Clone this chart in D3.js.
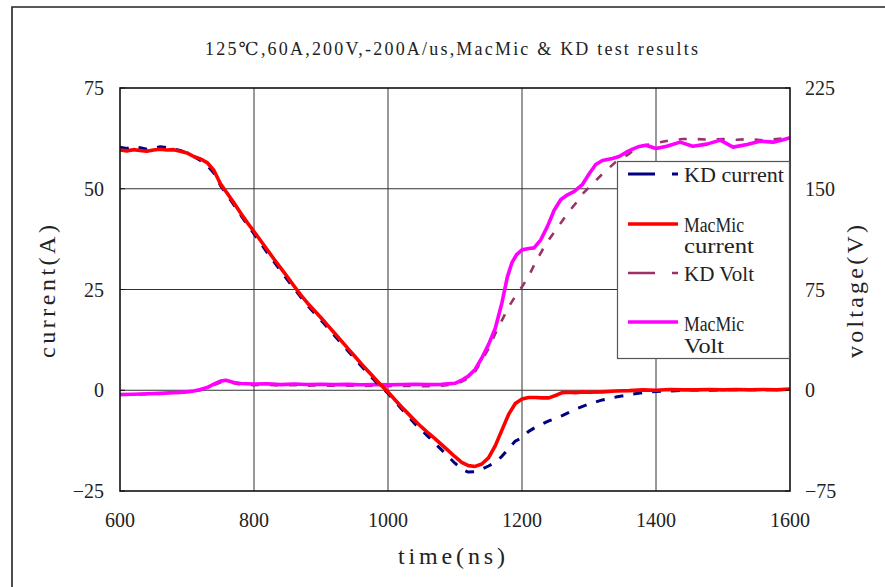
<!DOCTYPE html>
<html>
<head>
<meta charset="utf-8">
<script src="https://cdn.jsdelivr.net/npm/d3@7"></script>
<style>
  body { margin: 0; background: #fff; }
  text { font-family: "Liberation Serif", "DejaVu Serif", serif; fill: #222; }
</style>
</head>
<body>
<svg width="885" height="587"></svg>
<script>
// time axis ticks (ns) and value ticks
var timeTicks = [600, 800, 1000, 1200, 1400, 1600];
var currentTicks = [-25, 0, 25, 50, 75];
var voltTicks = [-75, 0, 75, 150, 225];

// MacMic current (A)
var macCurT = [600,610,620,630,640,650,660,670,680,690,700,710,720,730,740,750,760,770,780,790,800,810,820,830,840,850,860,870,880,890,900,910,920,930,940,950,960,970,980,990,1000,1010,1020,1030,1040,1050,1060,1070,1080,1090,1100,1110,1120,1130,1140,1150,1160,1170,1180,1190,1200,1210,1220,1230,1240,1250,1260,1270,1280,1290,1300,1320,1340,1360,1380,1400,1420,1440,1460,1480,1500,1520,1540,1560,1580,1600];
var macCurV = [59.6,59.4,59.7,59.5,59.3,59.6,59.8,59.6,59.7,59.3,58.9,58.0,57.4,56.5,54.6,51.2,48.9,46.5,44.0,41.6,39.4,37.1,34.8,32.5,30.3,28.1,25.8,23.6,21.6,19.8,18.0,16.1,14.2,12.3,10.4,8.5,6.6,4.8,3.0,1.2,-0.4,-2.3,-4.1,-5.8,-7.5,-9.1,-10.6,-12.0,-13.5,-15.0,-16.5,-17.9,-18.7,-18.9,-18.3,-16.8,-13.8,-9.9,-6.0,-3.3,-2.2,-1.8,-1.8,-1.9,-1.9,-1.3,-0.6,-0.5,-0.6,-0.4,-0.5,-0.4,-0.2,-0.1,0.1,0.0,0.2,0.1,0.1,0.2,0.1,0.2,0.1,0.2,0.1,0.3];

// KD current (A)
var kdCurT = [600,610,620,630,640,650,660,670,680,690,700,710,720,730,740,750,760,770,780,790,800,820,840,860,880,900,920,940,960,980,1000,1020,1040,1060,1080,1100,1110,1120,1130,1140,1150,1160,1170,1180,1190,1200,1210,1220,1240,1260,1280,1300,1320,1340,1360,1380,1400,1420,1440,1460,1480,1500,1520,1540,1560,1580,1600];
var kdCurV = [60.3,60.0,60.5,60.2,59.8,60.1,60.4,60.2,59.9,59.5,58.8,58.0,57.0,55.8,53.9,50.8,48.4,46.0,43.5,41.1,38.8,34.1,29.6,25.2,21.0,17.4,13.6,9.8,6.0,2.4,-0.8,-4.6,-8.3,-11.5,-14.8,-18.1,-19.6,-20.3,-20.2,-19.6,-18.8,-17.9,-16.4,-14.5,-12.6,-11.8,-10.2,-9.2,-7.6,-6.3,-4.7,-3.4,-2.4,-1.7,-1.1,-0.6,-0.3,-0.2,0.0,0.1,0.0,0.1,0.1,0.2,0.1,0.2,0.2];

// MacMic voltage (V)
var macVoltT = [600,620,640,660,680,700,710,720,730,740,750,758,770,780,800,820,840,860,880,900,920,940,960,980,1000,1020,1040,1060,1080,1100,1110,1120,1130,1140,1150,1160,1170,1178,1185,1192,1200,1210,1218,1228,1238,1248,1258,1268,1278,1290,1300,1310,1320,1335,1345,1355,1365,1375,1385,1400,1416,1436,1455,1476,1496,1515,1536,1555,1575,1590,1600];
var macVoltV = [-3.2,-3.0,-2.6,-2.3,-1.8,-1.2,-0.5,0.5,2.0,4.5,6.8,7.5,5.8,5.0,4.6,4.8,4.2,4.6,4.3,4.5,4.2,4.4,4.1,4.3,4.0,4.3,4.5,4.2,4.4,5.2,7.5,10.5,15.5,24,34,46,65,84,95,101,104.5,105.5,106,112,122,134,142,145.5,148,153,161,168,171,172.5,174,177,179.5,181.5,182.4,180,181.7,184.7,181.7,183.2,186.2,181,183,185.4,184.7,186.5,188];

// KD voltage (V)
var kdVoltT = [600,620,640,660,680,700,720,730,740,750,760,770,780,800,820,840,860,880,900,920,940,960,980,1000,1020,1040,1060,1080,1100,1110,1120,1130,1140,1150,1160,1170,1180,1190,1200,1210,1220,1230,1240,1250,1260,1270,1280,1290,1300,1310,1320,1330,1340,1350,1360,1370,1380,1400,1420,1440,1460,1480,1500,1520,1540,1560,1580,1600];
var kdVoltV = [-3.5,-3.3,-3.0,-2.6,-2.2,-1.6,0,1.5,3.8,5.8,6.5,5.2,4.2,3.8,4.0,3.5,3.8,3.4,3.6,3.3,3.5,3.2,3.4,3.1,3.3,3.2,3.0,3.4,4.5,6.5,9.0,14,22,31,42,52,62,70,77,85,95,104,112,119,126,133,139,146,151,156,161,165.5,170,173,176,180,182,184,186,187,187,186.5,187,186.5,187,186,187,188];

var svg = d3.select("svg"),
    width = +svg.attr("width"),
    height = +svg.attr("height");

var plotL = 120, plotR = 790, plotT = 88, plotB = 491;

var x = d3.scaleLinear().domain([600, 1600]).range([plotL, plotR]);
var yA = d3.scaleLinear().domain([-25, 75]).range([plotB, plotT]);
var yV = d3.scaleLinear().domain([-75, 225]).range([plotB, plotT]);

svg.append("rect").attr("width", width).attr("height", height).attr("fill", "#fff");

// outer frame
svg.append("path")
    .attr("d", "M12,587 V7 H885")
    .attr("fill", "none")
    .attr("stroke", "#222")
    .attr("stroke-width", 1.6);

// grid
var grid = svg.append("g").attr("class", "grid");
grid.selectAll("line.v")
    .data(timeTicks.slice(1, -1))
    .enter().append("line")
      .attr("x1", function(d) { return x(d); })
      .attr("x2", function(d) { return x(d); })
      .attr("y1", plotT).attr("y2", plotB)
      .attr("stroke", "#333").attr("stroke-width", 1);
grid.selectAll("line.h")
    .data(currentTicks.slice(1, -1))
    .enter().append("line")
      .attr("y1", function(d) { return yA(d); })
      .attr("y2", function(d) { return yA(d); })
      .attr("x1", plotL).attr("x2", plotR)
      .attr("stroke", "#333").attr("stroke-width", 1);

svg.append("defs").append("clipPath").attr("id", "plot")
  .append("rect").attr("x", plotL).attr("y", plotT - 2).attr("width", plotR - plotL).attr("height", plotB - plotT + 4);

var lineA = d3.line()
    .x(function(d) { return x(d[0]); })
    .y(function(d) { return yA(d[1]); });
var lineV = d3.line()
    .x(function(d) { return x(d[0]); })
    .y(function(d) { return yV(d[1]); });

function pairs(t, v) { return t.map(function(d, i) { return [d, v[i]]; }); }

var series = [
  {name: "KD Volt", data: pairs(kdVoltT, kdVoltV), line: lineV, color: "#993366", w: 2.6, dash: "8,11"},
  {name: "MacMic Volt", data: pairs(macVoltT, macVoltV), line: lineV, color: "#ff00ff", w: 3.6, dash: null},
  {name: "KD current", data: pairs(kdCurT, kdCurV), line: lineA, color: "#000080", w: 3, dash: "9,10"},
  {name: "MacMic current", data: pairs(macCurT, macCurV), line: lineA, color: "#ff0000", w: 3.6, dash: null}
];

svg.append("g").attr("clip-path", "url(#plot)")
  .selectAll("path")
  .data(series)
  .enter().append("path")
    .attr("d", function(d) { return d.line(d.data); })
    .attr("fill", "none")
    .attr("stroke", function(d) { return d.color; })
    .attr("stroke-width", function(d) { return d.w; })
    .attr("stroke-dasharray", function(d) { return d.dash; })
    .attr("stroke-linejoin", "round");

// plot border
svg.append("rect")
    .attr("x", plotL).attr("y", plotT)
    .attr("width", plotR - plotL).attr("height", plotB - plotT)
    .attr("fill", "none").attr("stroke", "#111").attr("stroke-width", 1.6);

// tick marks
svg.append("g").selectAll("line")
    .data(currentTicks)
    .enter().append("line")
      .attr("x1", plotL).attr("x2", plotL + 5)
      .attr("y1", function(d) { return yA(d); }).attr("y2", function(d) { return yA(d); })
      .attr("stroke", "#111");
svg.append("g").selectAll("line")
    .data(voltTicks)
    .enter().append("line")
      .attr("x1", plotR - 5).attr("x2", plotR)
      .attr("y1", function(d) { return yV(d); }).attr("y2", function(d) { return yV(d); })
      .attr("stroke", "#111");

function fmt(d) { return d < 0 ? "\u2212" + Math.abs(d) : String(d); }

svg.append("g").selectAll("text")
    .data(currentTicks)
    .enter().append("text")
      .attr("x", 104)
      .attr("y", function(d) { return yA(d) + 7; })
      .attr("text-anchor", "end")
      .attr("font-size", 20)
      .text(fmt);

svg.append("g").selectAll("text")
    .data(voltTicks)
    .enter().append("text")
      .attr("x", 805)
      .attr("y", function(d) { return yV(d) + 7; })
      .attr("font-size", 20)
      .text(fmt);

svg.append("g").selectAll("text")
    .data(timeTicks)
    .enter().append("text")
      .attr("x", function(d) { return x(d); })
      .attr("y", 527)
      .attr("text-anchor", "middle")
      .attr("font-size", 20)
      .text(fmt);

// titles
svg.append("text")
    .attr("x", 205).attr("y", 55)
    .attr("font-size", 18)
    .attr("textLength", 493).attr("lengthAdjust", "spacing")
    .text("125\u2103,60A,200V,-200A/us,MacMic & KD test results");

svg.append("text")
    .attr("x", 398).attr("y", 564)
    .attr("font-size", 24)
    .attr("textLength", 107).attr("lengthAdjust", "spacing")
    .text("time(ns)");

svg.append("text")
    .attr("transform", "translate(55,358) rotate(-90)")
    .attr("font-size", 24)
    .attr("textLength", 133).attr("lengthAdjust", "spacing")
    .text("current(A)");

svg.append("text")
    .attr("transform", "translate(863,358) rotate(-90)")
    .attr("font-size", 24)
    .attr("textLength", 133).attr("lengthAdjust", "spacing")
    .text("voltage(V)");

// legend
var legend = svg.append("g");
legend.append("rect")
    .attr("x", 617.5).attr("y", 161.5)
    .attr("width", 172).attr("height", 197)
    .attr("fill", "#fff").attr("stroke", "#555").attr("stroke-width", 1.2);

var legendItems = [
  {s: series[2], y: 174, dash: "27,17", lines: [["KD current", 182]]},
  {s: series[3], y: 224, dash: null, lines: [["MacMic", 232], ["current", 253]]},
  {s: series[0], y: 273, dash: "27,17", lines: [["KD Volt", 281]]},
  {s: series[1], y: 322, dash: null, lines: [["MacMic", 331], ["Volt", 353]]}
];

legendItems.forEach(function(it) {
  legend.append("line")
      .attr("x1", 628).attr("x2", 678)
      .attr("y1", it.y).attr("y2", it.y)
      .attr("stroke", it.s.color)
      .attr("stroke-width", it.s.w)
      .attr("stroke-dasharray", it.dash);
  it.lines.forEach(function(l) {
    legend.append("text")
        .attr("x", 684).attr("y", l[1])
        .attr("font-size", 20)
        .attr("textLength", l[0].length * 10).attr("lengthAdjust", "spacingAndGlyphs")
        .text(l[0]);
  });
});
</script>
</body>
</html>
